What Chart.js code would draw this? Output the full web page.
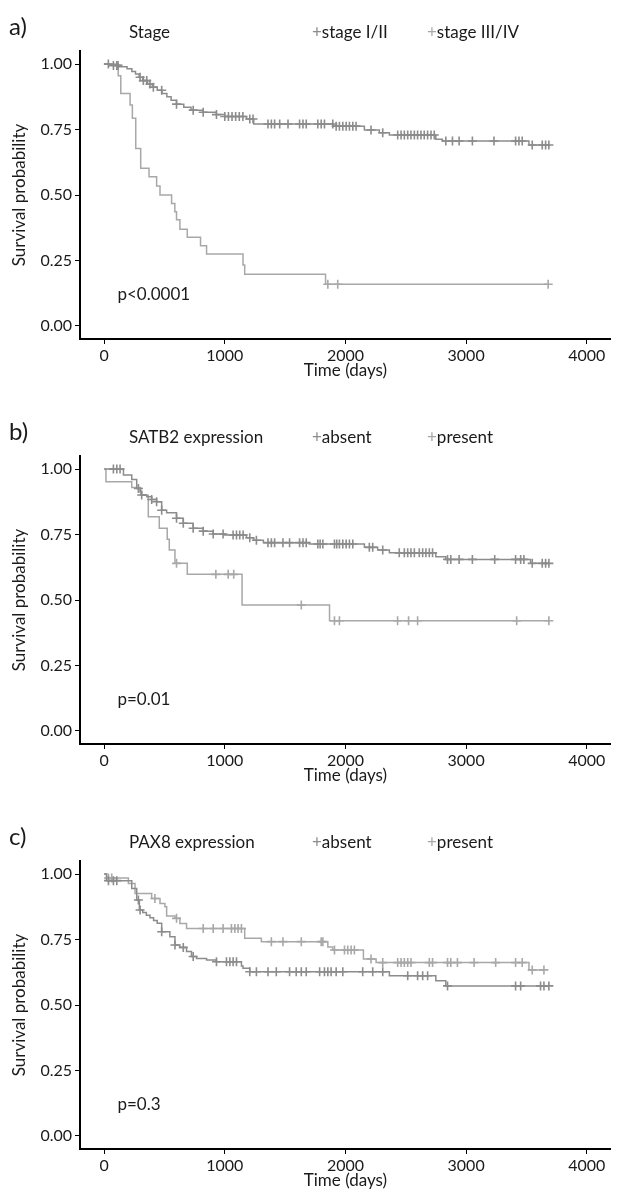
<!DOCTYPE html>
<html>
<head>
<meta charset="utf-8">
<script src="https://cdn.jsdelivr.net/npm/chart.js@4.4.1/dist/chart.umd.min.js"></script>
<style>
  html, body { margin: 0; padding: 0; background: #fff; }
  body { width: 617px; height: 1193px; overflow: hidden; position: relative; }
  canvas { position: absolute; left: 0; }
</style>
</head>
<body>
<canvas id="panelA" width="617" height="405" style="top:0px"></canvas>
<canvas id="panelB" width="617" height="405" style="top:405px"></canvas>
<canvas id="panelC" width="617" height="405" style="top:810px"></canvas>
<script>
// ---- axes ----
const xTicks = [0, 1000, 2000, 3000, 4000];
const yTicks = [0, 0.25, 0.5, 0.75, 1];

// ---- a) Stage ----
const stageEarlyTimes = [0, 40, 120, 190, 230, 260, 290, 320, 360, 400, 440, 480, 520, 555, 600, 660, 720, 820, 930, 1000, 1180, 1240, 1900, 2157, 2281, 2364, 2749, 2804, 3521];
const stageEarlySurv  = [1, 0.995, 0.99, 0.982, 0.972, 0.962, 0.95, 0.937, 0.924, 0.912, 0.9, 0.888, 0.875, 0.862, 0.847, 0.835, 0.824, 0.816, 0.807, 0.8, 0.79, 0.771, 0.763, 0.748, 0.738, 0.729, 0.713, 0.706, 0.691];
const stageEarlyCens  = [35, 77, 105, 115, 298, 325, 353, 380, 408, 477, 600, 738, 821, 931, 1000, 1030, 1060, 1090, 1120, 1150, 1207, 1234, 1358, 1386, 1413, 1455, 1524, 1620, 1648, 1675, 1771, 1799, 1826, 1895, 1923, 1950, 1978, 2006, 2033, 2061, 2088, 2212, 2309, 2433, 2461, 2488, 2516, 2543, 2571, 2598, 2626, 2653, 2681, 2709, 2736, 2832, 2887, 2942, 3052, 3231, 3410, 3438, 3465, 3548, 3631, 3659, 3686];
const stageLateTimes = [0, 117, 138, 215, 234, 262, 303, 372, 435, 463, 559, 586, 600, 628, 689, 799, 849, 1151, 1165, 1835];
const stageLateSurv  = [1, 0.955, 0.888, 0.844, 0.793, 0.678, 0.602, 0.57, 0.534, 0.5, 0.468, 0.436, 0.405, 0.369, 0.339, 0.306, 0.275, 0.233, 0.197, 0.159];
const stageLateCens  = [1854, 1936, 3680];

// ---- b) SATB2 ----
const satbAbsentTimes = [0, 160, 229, 270, 298, 311, 353, 394, 435, 477, 518, 600, 656, 738, 821, 904, 1000, 1180, 1240, 1320, 1700, 2157, 2267, 2364, 2749, 2832, 3534];
const satbAbsentSurv  = [1, 0.977, 0.96, 0.926, 0.913, 0.901, 0.894, 0.884, 0.875, 0.843, 0.833, 0.812, 0.793, 0.774, 0.763, 0.752, 0.748, 0.738, 0.728, 0.719, 0.714, 0.701, 0.691, 0.68, 0.665, 0.655, 0.64];
const satbAbsentCens  = [77, 105, 132, 284, 311, 394, 435, 477, 600, 656, 738, 821, 904, 986, 1069, 1097, 1124, 1152, 1207, 1262, 1358, 1386, 1413, 1482, 1537, 1620, 1648, 1675, 1771, 1790, 1813, 1909, 1928, 1950, 1978, 2006, 2033, 2061, 2198, 2226, 2309, 2446, 2488, 2516, 2543, 2571, 2612, 2640, 2667, 2695, 2722, 2846, 2873, 2942, 3052, 3237, 3410, 3452, 3479, 3548, 3631, 3659, 3686];
const satbPresentTimes = [0, 15, 229, 303, 366, 457, 523, 540, 587, 689, 1143, 1868];
const satbPresentSurv  = [1, 0.952, 0.93, 0.9, 0.818, 0.774, 0.732, 0.691, 0.64, 0.598, 0.481, 0.421];
const satbPresentCens  = [600, 926, 1028, 1074, 1634, 1909, 1950, 2432, 2523, 2598, 3419, 3686];

// ---- c) PAX8 ----
const paxAbsentTimes = [0, 20, 229, 270, 292, 320, 350, 380, 410, 440, 477, 545, 587, 628, 683, 724, 766, 849, 931, 1138, 1151, 1207, 2364, 2749, 2832];
const paxAbsentSurv  = [1, 0.975, 0.945, 0.901, 0.863, 0.853, 0.843, 0.833, 0.823, 0.812, 0.78, 0.761, 0.729, 0.72, 0.704, 0.685, 0.678, 0.672, 0.665, 0.649, 0.64, 0.627, 0.612, 0.593, 0.573];
const paxAbsentCens  = [36, 77, 105, 284, 298, 477, 587, 656, 738, 931, 1014, 1042, 1069, 1097, 1207, 1262, 1358, 1427, 1537, 1592, 1634, 1675, 1786, 1826, 1854, 1881, 1923, 1978, 2143, 2226, 2309, 2516, 2598, 2640, 2681, 2846, 3410, 3452, 3617, 3645, 3686];
const paxPresentTimes = [0, 20, 201, 256, 394, 463, 504, 518, 587, 628, 683, 1165, 1303, 1854, 1895, 2149, 2254, 3521];
const paxPresentSurv  = [1, 0.985, 0.964, 0.926, 0.907, 0.888, 0.875, 0.84, 0.831, 0.811, 0.792, 0.755, 0.742, 0.722, 0.71, 0.676, 0.662, 0.634];
const paxPresentCens  = [36, 63, 421, 600, 821, 904, 986, 1055, 1083, 1110, 1138, 1386, 1482, 1634, 1799, 1813, 1909, 1992, 2019, 2047, 2074, 2212, 2309, 2433, 2461, 2488, 2516, 2543, 2695, 2722, 2846, 2873, 2928, 3066, 3245, 3410, 3465, 3548, 3645];

const DARK = '#8c8c8c';
const LIGHT = '#a8a8a8';
const TEXT = '#1a1a1a';
const FONT = "Lato, 'Open Sans', sans-serif";

// survival value at time t (step function)
function survAt(times, surv, t) {
    let s = surv[0];
    for (let i = 0; i < times.length; i++) {
        if (times[i] <= t) s = surv[i];
    }
    return s;
}

function curvePoints(times, surv, cens) {
    const pts = times.map((t, i) => ({ x: t, y: surv[i] }));
    const end = Math.max(times[times.length - 1], ...cens);
    pts.push({ x: end, y: surv[surv.length - 1] });
    return pts;
}

function censorPoints(times, surv, cens) {
    return cens.map(t => ({ x: t, y: survAt(times, surv, t) }));
}

// text around the plot: letter, title, legend, axis titles, p-value
const panelText = {
    id: 'panelText',
    afterDraw(chart, args, opts) {
        const { ctx, chartArea, scales } = chart;
        ctx.save();
        ctx.textBaseline = 'middle';
        ctx.textAlign = 'left';
        ctx.fillStyle = TEXT;
        ctx.font = '24px ' + FONT;
        ctx.fillText(opts.letter, 9, 27);

        ctx.font = '17px ' + FONT;
        ctx.fillText(opts.title, 129, 33);
        const legendX = [312, 427];
        opts.legend.forEach((item, i) => {
            ctx.fillStyle = item.color;
            ctx.fillText('+', legendX[i], 33);
            const w = ctx.measureText('+').width;
            ctx.fillStyle = TEXT;
            ctx.fillText(item.label, legendX[i] + w, 33);
        });

        // x title
        ctx.textAlign = 'center';
        ctx.fillText('Time (days)', (chartArea.left + chartArea.right) / 2, 371);

        // y title
        ctx.save();
        ctx.translate(20, (chartArea.top + chartArea.bottom) / 2);
        ctx.rotate(-Math.PI / 2);
        ctx.fillText('Survival probability', 0, 0);
        ctx.restore();

        // p-value
        ctx.textAlign = 'left';
        ctx.fillText(opts.p, scales.x.getPixelForValue(110), scales.y.getPixelForValue(0.12));
        ctx.restore();
    }
};

function makePanel(id, cfg) {
    const mk = (times, surv, cens, color) => ([
        {
            data: curvePoints(times, surv, cens),
            borderColor: color,
            borderWidth: 1.5,
            stepped: 'before',
            pointRadius: 0,
            fill: false
        },
        {
            data: censorPoints(times, surv, cens),
            showLine: false,
            pointStyle: 'cross',
            pointRadius: 4.5,
            pointBorderWidth: 1.6,
            pointBorderColor: color,
            pointBackgroundColor: color
        }
    ]);

    new Chart(document.getElementById(id), {
        type: 'line',
        data: {
            datasets: [
                ...mk(cfg.a.times, cfg.a.surv, cfg.a.cens, DARK),
                ...mk(cfg.b.times, cfg.b.surv, cfg.b.cens, LIGHT)
            ]
        },
        options: {
            responsive: false,
            animation: false,
            devicePixelRatio: 1,
            layout: { padding: { top: 51, right: 5, bottom: 0, left: 0 } },
            plugins: {
                legend: { display: false },
                tooltip: { enabled: false },
                panelText: {
                    letter: cfg.letter,
                    title: cfg.title,
                    p: cfg.p,
                    legend: [
                        { label: cfg.a.label, color: DARK },
                        { label: cfg.b.label, color: LIGHT }
                    ]
                }
            },
            scales: {
                x: {
                    type: 'linear',
                    min: -200,
                    max: 4200,
                    afterBuildTicks: (scale) => { scale.ticks = xTicks.map(v => ({ value: v })); },
                    afterFit: (scale) => { scale.height = 66; },
                    ticks: {
                        color: TEXT,
                        font: { family: FONT, size: 16 },
                        padding: 2,
                        maxRotation: 0,
                        callback: (v) => String(v)
                    },
                    grid: { drawOnChartArea: false, drawTicks: true, tickLength: 5, color: '#000', lineWidth: 1 },
                    border: { display: true, color: '#000', width: 2 }
                },
                y: {
                    min: -0.05,
                    max: 1.05,
                    afterBuildTicks: (scale) => { scale.ticks = yTicks.map(v => ({ value: v })); },
                    afterFit: (scale) => { scale.width = 80; },
                    ticks: {
                        color: TEXT,
                        font: { family: FONT, size: 16 },
                        padding: 3,
                        callback: (v) => Number(v).toFixed(2)
                    },
                    grid: { drawOnChartArea: false, drawTicks: true, tickLength: 5, color: '#000', lineWidth: 1 },
                    border: { display: true, color: '#000', width: 2 }
                }
            }
        },
        plugins: [panelText]
    });
}

makePanel('panelA', {
    letter: 'a)', title: 'Stage', p: 'p<0.0001',
    a: { label: 'stage I/II', times: stageEarlyTimes, surv: stageEarlySurv, cens: stageEarlyCens },
    b: { label: 'stage III/IV', times: stageLateTimes, surv: stageLateSurv, cens: stageLateCens }
});

makePanel('panelB', {
    letter: 'b)', title: 'SATB2 expression', p: 'p=0.01',
    a: { label: 'absent', times: satbAbsentTimes, surv: satbAbsentSurv, cens: satbAbsentCens },
    b: { label: 'present', times: satbPresentTimes, surv: satbPresentSurv, cens: satbPresentCens }
});

makePanel('panelC', {
    letter: 'c)', title: 'PAX8 expression', p: 'p=0.3',
    a: { label: 'absent', times: paxAbsentTimes, surv: paxAbsentSurv, cens: paxAbsentCens },
    b: { label: 'present', times: paxPresentTimes, surv: paxPresentSurv, cens: paxPresentCens }
});
</script>
</body>
</html>
